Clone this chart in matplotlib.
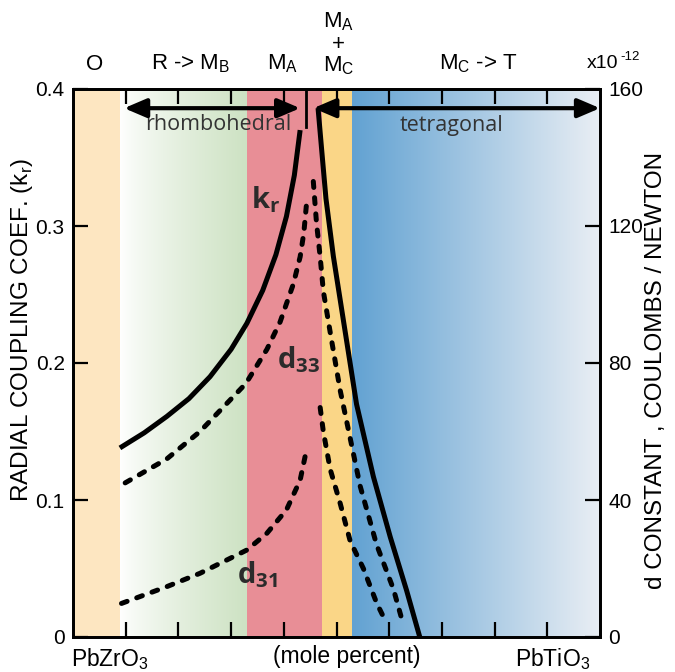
import numpy as np
import matplotlib
matplotlib.use('Agg')
import matplotlib.pyplot as plt
from matplotlib.colors import to_rgb

plt.rcParams['font.family'] = ['Liberation Sans', 'DejaVu Sans']
plt.rcParams['mathtext.fontset'] = 'custom'
plt.rcParams['mathtext.rm'] = 'Liberation Sans'
plt.rcParams['mathtext.sf'] = 'Liberation Sans'
plt.rcParams['mathtext.bf'] = 'Open Sans:bold'

# phase boundaries (mole percent PbTiO3)
o_end = 8.9
rhombo_end = 33.0
ma_end = 47.3
mamc_end = 53.0
mpb_x = 44.3

# radial coupling coefficient k_r
kr_left_x = [8.9, 13.5, 17.8, 22.0, 26.0, 30.0, 33.0, 36.0, 38.5, 40.5, 42.0, 43.1]
kr_left_y = [0.138, 0.149, 0.161, 0.174, 0.190, 0.210, 0.229, 0.253, 0.279, 0.307, 0.337, 0.370]
kr_right_x = [46.5, 47.2, 48.0, 49.4, 51.6, 53.8, 57.0, 60.2, 63.3, 65.8]
kr_right_y = [0.386, 0.355, 0.320, 0.278, 0.224, 0.170, 0.117, 0.073, 0.034, 0.0]

# d33 and d31 (x10^-12 C/N)
d33_left_x = [9.9, 17.8, 24.1, 32.8, 36.8, 39.3, 41.8, 43.1, 43.8, 44.4]
d33_left_y = [45, 52, 60, 74, 84, 92, 103, 111, 118, 128]
d33_right_x = [45.6, 46.2, 46.9, 47.5, 48.8, 50.7, 52.6, 54.5, 57.6, 60.8, 62.7]
d33_right_y = [133, 121, 111, 101, 89, 72, 58, 44, 27, 14, 3.5]
d31_left_x = [9.2, 17.8, 24.1, 33.0, 36.8, 40.5, 43.1, 44.3]
d31_left_y = [9.8, 14.7, 18.6, 25.4, 30.3, 37.1, 45.8, 54.6]
d31_right_x = [46.9, 47.5, 48.8, 50.7, 52.6, 55.1, 57.6, 59.5]
d31_right_y = [67, 60, 49, 39, 28, 20, 10, 4]

kr_ticks = [0, 0.1, 0.2, 0.3, 0.4]
kr_labels = ['0', '0.1', '0.2', '0.3', '0.4']
d_ticks = [0, 40, 80, 120, 160]

W, H = 675, 672
fig = plt.figure(figsize=(W / 100, H / 100), dpi=100)
ax = fig.add_axes([73 / W, 1 - 637 / H, 527 / W, 548 / H])


def gradient(c0, c1, power=1.0):
    t = np.linspace(0, 1, 256) ** power
    a, b = np.array(to_rgb(c0)), np.array(to_rgb(c1))
    return (a[None, :] * (1 - t[:, None]) + b[None, :] * t[:, None])[None, :, :]


ax.axvspan(0, o_end, color='#FDE6C1', lw=0, zorder=0)
ax.imshow(gradient('#FFFFFF', '#CDE2C3', 0.8), extent=[o_end, rhombo_end, 0, 0.4],
          aspect='auto', zorder=0)
ax.axvspan(rhombo_end, ma_end, color='#E88E96', lw=0, zorder=0)
ax.axvspan(ma_end, mamc_end, color='#FAD687', lw=0, zorder=0)
ax.imshow(gradient('#62A2D2', '#E9EEF4', 1.0), extent=[mamc_end, 100, 0, 0.4],
          aspect='auto', zorder=0)
ax.set_xlim(0, 100)
ax.set_ylim(0, 0.4)

ax.plot(kr_left_x, kr_left_y, color='black', lw=3.6, zorder=3, solid_capstyle='butt')
ax.plot(kr_right_x, kr_right_y, color='black', lw=3.6, zorder=3, solid_capstyle='butt')

ax2 = ax.twinx()
ax2.set_ylim(0, 160)
dash = dict(color='black', lw=3.6, linestyle=(0, (1.2, 2.05)), dash_capstyle='round', zorder=3)
ax2.plot(d33_left_x, d33_left_y, **dash)
ax2.plot(d33_right_x, d33_right_y, **dash)
ax2.plot(d31_left_x, d31_left_y, **dash)
ax2.plot(d31_right_x, d31_right_y, **dash)

# phase arrows
arrow = dict(arrowstyle='<|-|>,head_length=0.75,head_width=0.32', lw=3, color='black',
             mutation_scale=18, shrinkA=0, shrinkB=0)
ax.annotate('', xy=(43.1, 0.386), xytext=(9.7, 0.386), arrowprops=arrow, zorder=5,
            annotation_clip=False)
ax.annotate('', xy=(100, 0.386), xytext=(45.6, 0.386), arrowprops=arrow, zorder=5,
            annotation_clip=False)
ax.axvline(mpb_x, ymin=0.93, ymax=1, color='black', lw=2, zorder=5)

ax.set_xticks(range(10, 100, 10))
ax.set_xticklabels([])
ax.tick_params(axis='x', direction='in', top=True, bottom=True, length=11, width=1.6)
ax.set_yticks(kr_ticks)
ax.set_yticklabels(kr_labels)
ax.tick_params(axis='y', direction='in', length=11, width=1.6, labelsize=15, pad=6)
ax2.set_yticks(d_ticks)
ax2.tick_params(axis='y', direction='in', length=11, width=1.6, labelsize=15, pad=6)
for a in (ax, ax2):
    for s in a.spines.values():
        s.set_linewidth(2)


def ftext(px, py, s, **kw):
    fig.text(px / W, 1 - py / H, s, **kw)


top = dict(fontsize=16, ha='center', va='center')
ftext(95, 64, 'O', **top)
ftext(191, 64, r'R -> M$_\mathsf{B}$', **top)
ftext(283, 64, r'M$_\mathsf{A}$', **top)
ftext(339, 22, r'M$_\mathsf{A}$', **top)
ftext(338, 45, '+', **top)
ftext(339, 66, r'M$_\mathsf{C}$', **top)
ftext(478, 64, r'M$_\mathsf{C}$ -> T', **top)
ftext(603, 64, 'x10', fontsize=14, ha='center', va='center')
ftext(630, 57, '-12', fontsize=9.5, ha='center', va='center')

bot = dict(fontsize=16.5, ha='center', va='center')
ftext(110, 659, r'PbZrO$_\mathsf{3}$', **bot)
ftext(347, 657, '(mole percent)', **bot)
ftext(553, 659, r'PbTiO$_\mathsf{3}$', **bot)

ftext(22, 330, r'RADIAL COUPLING COEF. (k$_\mathsf{r}$)', fontsize=17.5, rotation=90,
      ha='center', va='center')
ftext(656, 370, 'd CONSTANT , COULOMBS / NEWTON', fontsize=17.5, rotation=90,
      ha='center', va='center')

inner = dict(family='Open Sans', color='#333333', fontsize=15.5, ha='center', va='center')
ftext(218, 125, 'rhombohedral', **inner)
ftext(452, 125, 'tetragonal', **inner)

lab = dict(family='Open Sans', weight='bold', color='#2b2b2b', fontsize=21, ha='left',
           va='baseline')
ftext(251, 208, r'k$_\mathbf{r}$', **lab)
ftext(277, 368, r'd$_\mathbf{33}$', **lab)
ftext(237, 583, r'd$_\mathbf{31}$', **lab)

fig.savefig('out.png', dpi=100)
